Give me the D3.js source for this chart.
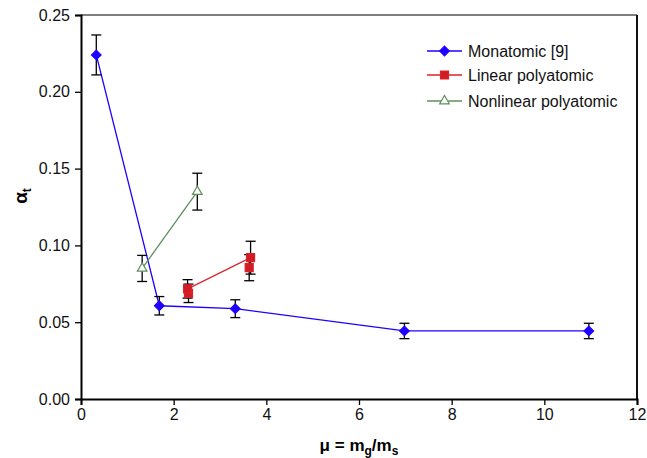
<!DOCTYPE html>
<html>
<head>
<meta charset="utf-8">
<script src="https://cdn.jsdelivr.net/npm/d3@7"></script>
<style>
  body { margin: 0; background: #fff; }
  svg text { font-family: "Liberation Sans", Arial, sans-serif; }
</style>
</head>
<body>
<svg id="chart" width="647" height="458"></svg>
<script>
// data
var monoX   = [0.33, 1.69, 3.33, 6.98, 10.96];
var monoY   = [0.224, 0.0607, 0.0588, 0.0443, 0.0443];
var monoErr = [0.013, 0.006, 0.0058, 0.005, 0.005];

var linX   = [2.32, 2.30, 3.66, 3.63];
var linY   = [0.0688, 0.0717, 0.092, 0.0855];
var linErr = [0.006, 0.006, 0.0107, 0.0085];

var nonX   = [1.32, 2.51];
var nonY   = [0.085, 0.135];
var nonErr = [0.0085, 0.012];

var xTicks = [0, 2, 4, 6, 8, 10, 12];
var yTicks = [0, 0.05, 0.10, 0.15, 0.20, 0.25];

var legendNames = ["Monatomic [9]", "Linear polyatomic", "Nonlinear polyatomic"];

var svg = d3.select("#chart");
var m = {left: 81, right: 637, top: 15, bottom: 399};

var x = d3.scaleLinear().domain([0, 12]).range([m.left, m.right]);
var y = d3.scaleLinear().domain([0, 0.25]).range([m.bottom, m.top]);

function zip(xs, ys, es) {
    return xs.map(function(v, i) { return {x: v, y: ys[i], e: es[i]}; });
}

// square diamond (d3's diamond is too tall)
var squareDiamond = {
    draw: function(ctx, size) {
        var r = Math.sqrt(size / 2);
        ctx.moveTo(0, -r); ctx.lineTo(r, 0); ctx.lineTo(0, r); ctx.lineTo(-r, 0); ctx.closePath();
    }
};

var series = [
    {name: legendNames[0], data: zip(monoX, monoY, monoErr), color: "#1f00ff", sym: squareDiamond, size: 46, fill: "#1f00ff"},
    {name: legendNames[1], data: zip(linX, linY, linErr), color: "#d8232a", sym: d3.symbolSquare, size: 64, fill: "#d01c24"},
    {name: legendNames[2], data: zip(nonX, nonY, nonErr), color: "#5e8f5e", sym: d3.symbolTriangle, size: 40, fill: "#fff"}
];

// frame (top / right)
svg.append("line").attr("x1", m.left).attr("x2", m.right).attr("y1", m.top).attr("y2", m.top)
    .attr("stroke", "#555").attr("stroke-width", 1.5);
svg.append("line").attr("x1", m.right).attr("x2", m.right).attr("y1", m.top).attr("y2", m.bottom)
    .attr("stroke", "#111").attr("stroke-width", 2);

// axes
var xAxis = svg.append("g").attr("transform", "translate(0," + m.bottom + ")")
    .call(d3.axisBottom(x).tickValues(xTicks).tickSize(6).tickPadding(4).tickFormat(d3.format("d")));
var yAxis = svg.append("g").attr("transform", "translate(" + m.left + ",0)")
    .call(d3.axisLeft(y).tickValues(yTicks).tickSize(6).tickPadding(5).tickFormat(d3.format(".2f")));

[xAxis, yAxis].forEach(function(g) {
    g.select(".domain").attr("stroke", "#000").attr("stroke-width", 2);
    g.selectAll(".tick line").attr("stroke", "#000").attr("stroke-width", 1.3);
    g.selectAll(".tick text").attr("font-size", 16).attr("fill", "#111")
        .style("font-family", "'Liberation Sans', Arial, sans-serif");
});

// axis titles
var xt = svg.append("text").attr("x", 359).attr("y", 451).attr("text-anchor", "middle")
    .attr("font-size", 17).attr("font-weight", "bold");
xt.append("tspan").text("\u03bc = m");
xt.append("tspan").attr("font-size", 12).attr("dy", 4).text("g");
xt.append("tspan").attr("dy", -4).text("/m");
xt.append("tspan").attr("font-size", 12).attr("dy", 4).text("s");

var yt = svg.append("text").attr("transform", "translate(27,196) rotate(-90)")
    .attr("text-anchor", "middle").attr("font-size", 19).attr("font-weight", "bold");
yt.append("tspan").text("\u03b1");
yt.append("tspan").attr("font-size", 12).attr("dy", 4).text("t");

var line = d3.line().x(function(d) { return x(d.x); }).y(function(d) { return y(d.y); });

series.forEach(function(s) {
    var g = svg.append("g");
    g.append("path").datum(s.data).attr("d", line)
        .attr("fill", "none").attr("stroke", s.color).attr("stroke-width", 1.3);

    // error bars
    var eb = g.selectAll(".eb").data(s.data).enter().append("g");
    eb.append("line")
        .attr("x1", function(d) { return x(d.x); }).attr("x2", function(d) { return x(d.x); })
        .attr("y1", function(d) { return y(d.y - d.e); }).attr("y2", function(d) { return y(d.y + d.e); });
    eb.append("line")
        .attr("x1", function(d) { return x(d.x) - 5; }).attr("x2", function(d) { return x(d.x) + 5; })
        .attr("y1", function(d) { return y(d.y + d.e); }).attr("y2", function(d) { return y(d.y + d.e); });
    eb.append("line")
        .attr("x1", function(d) { return x(d.x) - 5; }).attr("x2", function(d) { return x(d.x) + 5; })
        .attr("y1", function(d) { return y(d.y - d.e); }).attr("y2", function(d) { return y(d.y - d.e); });
    eb.selectAll("line").attr("stroke", "#000").attr("stroke-width", 1.3);

    g.selectAll(".pt").data(s.data).enter().append("path")
        .attr("transform", function(d) { return "translate(" + x(d.x) + "," + y(d.y) + ")"; })
        .attr("d", d3.symbol().type(s.sym).size(s.size))
        .attr("fill", s.fill).attr("stroke", s.color).attr("stroke-width", 1.2);
});

// legend
var leg = svg.append("g").selectAll("g").data(series).enter().append("g")
    .attr("transform", function(d, i) { return "translate(427," + [51, 75, 101][i] + ")"; });
leg.append("line").attr("x1", 0).attr("x2", 35).attr("stroke", function(d) { return d.color; }).attr("stroke-width", 1.3);
leg.append("path").attr("transform", "translate(17.5,0)")
    .attr("d", function(d) { return d3.symbol().type(d.sym).size(d.size)(); })
    .attr("fill", function(d) { return d.fill; }).attr("stroke", function(d) { return d.color; }).attr("stroke-width", 1.2);
leg.append("text").attr("x", 41).attr("y", 6).attr("font-size", 16).attr("fill", "#111")
    .text(function(d) { return d.name; });
</script>
</body>
</html>
